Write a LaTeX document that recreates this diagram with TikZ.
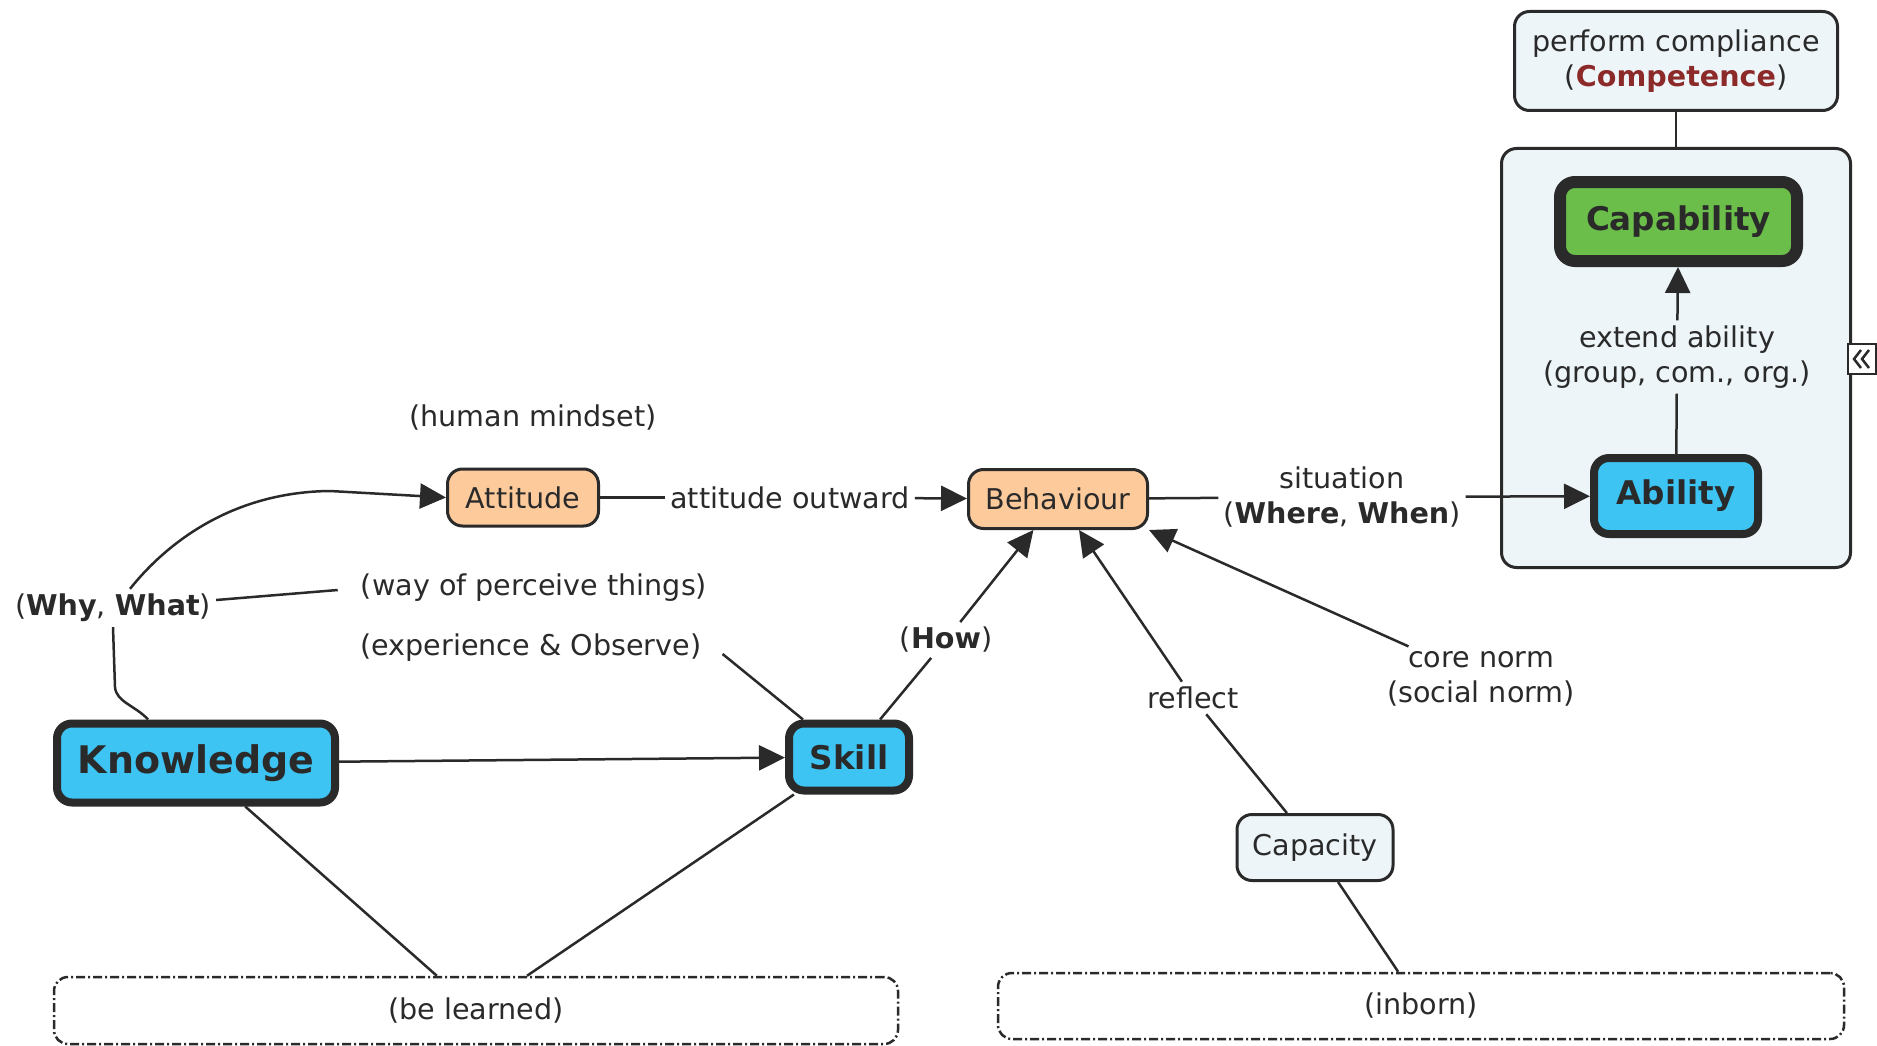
\documentclass[tikz,border=0pt]{standalone}
\usepackage{fontspec}
\setmainfont{DejaVu Sans}
\usetikzlibrary{arrows.meta,calc}
\definecolor{ink}{HTML}{2A2A2A}
\definecolor{blueA}{HTML}{3EC4F2}
\definecolor{greenA}{HTML}{6CBE4B}
\definecolor{peach}{HTML}{FDCA9B}
\definecolor{pale}{HTML}{EDF5F9}
\definecolor{compred}{HTML}{8C2A2A}
\begin{document}
\begin{tikzpicture}[x=1pt,y=-1pt,
  every node/.style={text=ink, font=\fontsize{28.6}{35}\selectfont, align=center},
  box/.style={draw=ink, rounded corners=15pt, line width=3pt, inner sep=0pt},
  keybox/.style={box, fill=blueA, line width=8pt, font=\fontsize{32.6}{38}\selectfont\bfseries},
  softbox/.style={box, fill=peach},
  palebox/.style={box, fill=pale},
  phrase/.style={inner sep=5pt},
  conn/.style={draw=ink, line width=2.5pt},
  arr/.style={conn, -{Triangle[length=26pt,width=25pt]}},
  groupline/.style={draw=ink, line width=2.5pt, rounded corners=14pt, inner sep=0pt,
    dash pattern=on 9pt off 3pt on 2pt off 3pt},
]
\fill[white] (0,0) rectangle (1877,1046);
\useasboundingbox (0,0) rectangle (1877,1046);

% right-hand group
\node[palebox, minimum width=349pt, minimum height=419pt] (cluster) at (1676,358) {};
\node[palebox, minimum width=323pt, minimum height=99pt] (perf) at (1676,61)
  {perform compliance\\(\textcolor{compred}{\textbf{Competence}})};
\node[keybox, fill=greenA, line width=12pt, minimum width=237pt, minimum height=79pt] (cap) at (1678.5,221.5) {Capability};
\node[keybox, minimum width=164pt, minimum height=76pt] (abil) at (1676,496) {Ability};
\node[phrase] (extend) at (1677,357) {extend ability\\(group, com., org.)};

% collapse toggle on the group's edge
\draw[ink, fill=white, line width=2pt] (1848,344) rectangle (1876,374);
\draw[ink, line width=2.5pt] (1861,350) -- (1854,359) -- (1861,368);
\draw[ink, line width=2.5pt] (1869,350) -- (1862,359) -- (1869,368);

% middle row
\node[softbox, minimum width=151pt, minimum height=57pt] (att) at (523,497.5) {Attitude};
\node[softbox, minimum width=179pt, minimum height=59pt] (beh) at (1058,499) {Behaviour};
\node[phrase] (mindset) at (533,418) {(human mindset)};
\node[phrase] (outward) at (790,497.5) {attitude outward};
\node[phrase] (situation) at (1342,497) {situation\\(\textbf{Where}, \textbf{When})};

% lower part
\node[keybox, font=\fontsize{38}{44}\selectfont\bfseries, minimum width=278pt, minimum height=79pt] (know) at (196,763) {Knowledge};
\node[keybox, minimum width=120pt, minimum height=67pt] (skill) at (849,757) {Skill};
\node[phrase] (whywhat) at (113,608) {(\textbf{Why}, \textbf{What})};
\node[phrase] (perceive) at (534,588) {(way of perceive things)};
\node[phrase] (experience) at (531,648) {(experience \& Observe)};
\node[phrase] (how) at (946,640) {(\textbf{How})};
\node[phrase] (reflect) at (1193,698) {reflect};
\node[phrase] (corenorm) at (1481,679) {core norm\\(social norm)};
\node[palebox, minimum width=156pt, minimum height=66pt] (capacity) at (1315,847.5) {Capacity};
\node[groupline, minimum width=844pt, minimum height=67pt] (learned) at (476,1010.5) {(be learned)};
\node[groupline, minimum width=846pt, minimum height=66pt] (inborn) at (1421,1006) {(inborn)};

% connectors
\draw[conn] (perf) -- (cluster);
\draw[conn] (abil) -- (extend);
\draw[arr] (extend) -- (cap);
\draw[conn] (att) -- (outward);
\draw[arr] (outward) -- (beh);
\draw[conn] (beh) -- (situation);
\draw[arr] (situation) -- (abil);
\draw[arr] (know) -- (skill);
\draw[arr] ([xshift=17pt]whywhat.north) .. controls (165,545) and (230,492) .. (330,491) -- (att.west);
\draw[conn] (whywhat.south) -- (115,687) .. controls (116,702) and (136,706) .. ([xshift=-48pt]know.north);
\draw[conn] ([yshift=8pt]whywhat.east) -- ([xshift=-18pt,yshift=-2pt]perceive.west);
\draw[conn] ([xshift=16pt,yshift=-6pt]experience.east) -- (skill);
\draw[conn] (skill) -- (how);
\draw[arr] (how) -- (beh);
\draw[conn] (capacity) -- (reflect);
\draw[arr] (reflect) -- (beh);
\draw[arr] (corenorm) -- (beh.south east);
\draw[conn] (know) -- (learned);
\draw[conn] (skill) -- (learned);
\draw[conn] (capacity) -- (inborn);
\end{tikzpicture}
\end{document}
